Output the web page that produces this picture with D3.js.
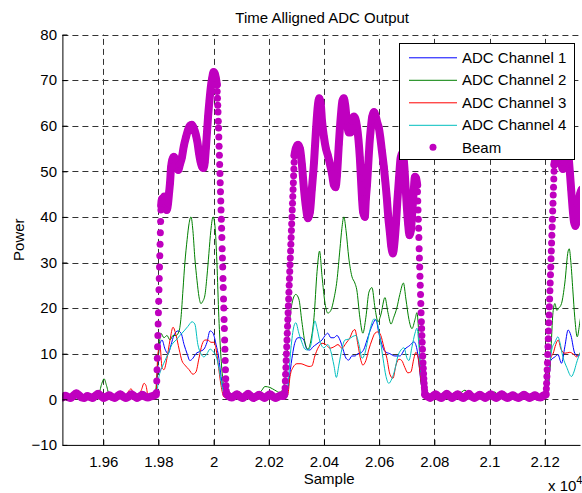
<!DOCTYPE html>
<html>
<head>
<meta charset="utf-8">
<script src="https://cdn.jsdelivr.net/npm/d3@7"></script>
<style>
  html, body { margin: 0; padding: 0; background: #fff; }
  svg text { font-family: "Liberation Sans", Arial, Helvetica, sans-serif; fill: #000; }
</style>
</head>
<body>
<svg id="chart" width="582" height="493"></svg>
<script>
// ── Axes ────────────────────────────────────────────────────────────────────
const xDomain = [19452, 21328];
const yDomain = [-10, 80];
const xTicks = [19600, 19800, 20000, 20200, 20400, 20600, 20800, 21000, 21200];
const xTickLabels = ["1.96", "1.98", "2", "2.02", "2.04", "2.06", "2.08", "2.1", "2.12"];
const yTicks = [-10, 0, 10, 20, 30, 40, 50, 60, 70, 80];

const seriesNames = ["ADC Channel 1", "ADC Channel 2", "ADC Channel 3", "ADC Channel 4", "Beam"];

// ── ADC channels: [sample, power] ───────────────────────────────────────────
const ch1 = [
  [19452,0.3],[19600,0.5],[19700,0.4],[19788,0.5],
  [19795,4],[19802,11],[19813,13],[19824,11],[19835,10],[19846,12],[19856,14],[19871,15],[19882,14.5],[19893,12],[19904,10],[19914,8.5],[19925,9],[19936,10],[19951,10.5],[19965,11],[19976,12.5],[19987,15],[19998,14.5],[20009,12],[20019,9],[20027,5],[20038,1.5],[20048,0.5],
  [20150,0.4],[20262,0.4],[20266,1],[20273,4],[20284,9],[20295,12.5],[20306,13.5],[20317,13.5],[20327,13],[20338,11],[20349,10.8],[20360,11.5],[20371,12],[20382,12.5],[20393,13],[20404,14],[20414,14.5],[20425,13.5],[20436,13.5],[20447,14],[20458,13],[20469,11],[20480,9],[20490,8.6],[20501,9.5],[20512,9.5],[20523,10],[20534,10.2],[20545,11],[20556,13],[20567,15],[20577,16.5],[20588,17.5],[20599,14.5],[20610,12],[20621,10.5],[20639,10],[20657,9.5],[20675,9.5],[20693,11],[20711,11.8],[20726,12.6],[20737,11],[20744,8],[20751,4],[20762,1],[20777,0.3],
  [21000,0.4],[21200,0.5],[21208,1],[21215,4],[21222,8.5],[21237,9.3],[21248,9.8],[21261,7.9],[21273,11.5],[21285,15.2],[21295,14],[21309,10.1],[21320,9.5],[21335,10.5]
];
const ch2 = [
  [19452,0.8],[19500,0.5],[19560,0.7],[19585,1.5],[19595,3.5],[19603,4.5],[19612,3],[19622,1],[19660,0.6],[19700,0.8],[19740,0.7],[19788,1],
  [19798,8],[19809,14.5],[19820,13.5],[19831,14],[19842,13],[19853,14],[19864,14],[19875,15],[19882,18],[19889,24],[19896,30],[19904,35],[19911,38.5],[19918,40],[19925,37],[19932,31],[19940,26],[19947,22.5],[19954,21],[19961,21.5],[19969,23],[19976,27],[19983,32],[19990,37],[19998,40],[20005,38],[20012,30],[20019,18],[20027,9],[20034,4],[20045,1],
  [20100,0.6],[20150,0.8],[20175,2],[20186,2.8],[20204,2.6],[20222,2],[20240,1.5],[20255,3],[20266,10],[20277,18],[20288,22],[20298,23],[20309,22],[20320,17],[20331,12.5],[20342,11],[20353,13],[20364,18],[20375,28],[20384,32.5],[20393,27],[20404,21],[20414,18.9],[20425,19.5],[20436,22],[20447,26],[20458,33],[20465,37.5],[20472,40],[20480,37],[20490,31],[20501,27],[20512,25.5],[20519,24],[20530,18],[20541,14.5],[20552,18],[20563,23.5],[20574,24.5],[20585,20],[20596,17],[20606,18.5],[20621,22.3],[20632,19],[20643,16.5],[20653,18],[20664,20],[20675,23],[20688,25.5],[20697,22],[20708,17.5],[20719,15.5],[20730,17.5],[20737,19],[20744,14],[20751,5],[20762,1],[20777,0.5],
  [20850,0.8],[20890,1.2],[20911,2],[20925,1.2],[20960,0.8],[21000,1],[21019,1.6],[21035,0.8],[21100,0.7],[21150,0.8],[21200,0.9],[21211,2],[21222,10],[21230,19],[21237,21],[21244,19.5],[21251,20],[21261,21],[21273,25.5],[21285,32.5],[21289,33],[21295,30],[21302,24],[21309,18],[21318,13.7],[21327,16.7],[21335,20]
];
const ch3 = [
  [19452,0.4],[19560,0.6],[19600,0.5],[19680,0.7],[19692,1.8],[19701,2.3],[19709,1.4],[19725,0.8],[19738,2],[19748,3.5],[19755,3],[19762,1],[19786,0.8],
  [19791,1],[19798,10],[19806,11.5],[19813,7],[19820,6.5],[19831,9],[19842,13],[19853,15.8],[19864,14],[19875,11],[19885,8.5],[19896,7.5],[19911,6.5],[19925,5.5],[19936,6],[19947,9],[19958,12],[19969,13],[19980,13],[19990,12.5],[20001,12.5],[20009,11],[20016,8],[20027,3],[20038,0.5],
  [20150,0.5],[20262,0.5],[20269,1],[20277,5],[20288,7],[20302,7.8],[20317,7.8],[20331,7.5],[20346,7.2],[20356,7.3],[20367,9.5],[20378,11.2],[20393,12.3],[20407,12],[20422,11.2],[20436,11.5],[20451,12],[20465,11.2],[20480,12.3],[20494,13.5],[20505,15],[20512,15.3],[20523,12],[20534,8.5],[20541,7.5],[20552,8.5],[20563,11],[20574,13],[20585,14.5],[20596,14.8],[20606,14],[20617,11.5],[20628,9],[20639,5.5],[20650,4.6],[20661,7.5],[20672,8.8],[20682,8.5],[20693,7],[20704,5.8],[20715,6],[20726,9],[20733,10.3],[20740,9.5],[20748,6],[20755,2.5],[20766,0.5],
  [21000,0.5],[21200,0.6],[21208,1.5],[21215,5],[21222,9],[21231,10.1],[21240,12],[21249,13],[21259,11],[21273,10.1],[21291,10.3],[21306,9.8],[21315,9.3],[21327,10],[21335,10]
];
const ch4 = [
  [19452,0.3],[19788,0.5],
  [19791,0.5],[19802,5],[19813,7],[19824,8.5],[19835,10],[19849,12],[19864,13],[19878,14],[19893,15],[19907,16],[19922,17],[19932,16.5],[19943,12],[19954,10],[19965,9.3],[19976,10],[19987,11],[19998,10.5],[20009,9.5],[20019,7],[20030,3],[20041,0.8],
  [20150,0.3],[20262,0.4],[20269,3],[20280,11],[20291,16],[20298,16.8],[20309,14.5],[20320,12.5],[20331,11],[20342,10.8],[20353,12],[20360,15],[20367,17.2],[20375,15.5],[20385,12.8],[20400,11.3],[20414,12],[20425,10.5],[20436,7.5],[20445,4.8],[20454,7.5],[20465,11],[20476,13],[20490,13.2],[20505,13.8],[20516,14],[20527,12],[20538,9],[20548,10],[20559,13],[20570,16],[20581,17.6],[20592,17],[20603,13.5],[20614,9],[20625,5],[20635,3.5],[20646,4.5],[20657,6.5],[20668,9.5],[20679,10.8],[20690,11.3],[20701,9],[20708,8.5],[20719,11.5],[20730,14.5],[20737,15.6],[20744,12],[20751,6],[20759,2],[20769,0.3],
  [21000,0.3],[21200,0.4],[21206,1],[21215,6],[21226,11],[21237,12.5],[21248,13.7],[21255,12.5],[21266,9.3],[21280,7],[21297,5],[21306,6],[21315,7.9],[21327,10],[21335,11]
];

// ── Beam: dense stretches as [sample, power], steep edges one sample apart ──
const beamFlat1 = [
  [19452,0.4],[19462,0.8],[19472,0.5],[19482,0.3],[19492,0.8],[19502,1.3],[19512,0.9],[19522,0.4],[19532,0.3],[19542,0.7],[19552,0.5],[19562,0.3],[19572,0.8],[19582,1.2],[19592,0.7],[19602,0.3],[19612,0.6],[19622,0.9],[19632,0.5],[19642,0.3],[19652,0.7],[19662,1.1],[19672,0.6],[19682,0.3],[19692,0.6],[19702,1.1],[19712,0.7],[19722,0.3],[19732,0.6],[19742,1.0],[19752,0.6],[19762,0.4],[19772,0.6],[19782,0.8],[19790,1.0]
];
const beamRise1 = { start: 19793, values: [1.5,4,6.5,9,11.5,14,16.5,19,21.5,24,26.5,29,31.5,34,36.5,39,41.5] };
const beamTop1 = [
  [19810,42.5],[19813,44],[19817,43],[19821,44.5],[19825,42.5],[19830,41.5],[19835,43],[19839,45.5],[19842,47.4],[19846,51],[19850,52.5],[19856,53.2],[19862,52.5],[19868,50.8],[19872,50.3],[19878,51.5],[19885,53],[19892,55.5],[19900,57.5],[19907,59],[19914,60],[19921,60.2],[19928,59.5],[19935,58.2],[19941,56.5],[19947,54],[19953,52],[19958,51],[19963,50.7],[19968,52],[19972,55],[19976,58.5],[19980,62],[19985,65.5],[19990,68.5],[19995,70.5],[20000,71.8],[20004,71.5],[20008,70.5],[20012,69]
];
const beamFall1 = { start: 20013, values: [67.5,66,64.5,63,61,59.5,57.5,55.5,53.5,51.5,49.5,47.5,45.5,43.5,41.5,39.5,37.5,35.5,33,31,29,26.5,24.5,22,20,17.5,15.5,13,11,8.5,6.5,4.5,3,1.8] };
const beamFlat2 = [
  [20047,1.2],[20055,0.7],[20065,0.4],[20075,0.7],[20085,1.1],[20095,0.6],[20105,0.3],[20115,0.7],[20125,1.2],[20135,0.7],[20145,0.3],[20155,0.6],[20165,1.0],[20175,0.6],[20185,0.3],[20195,0.7],[20205,1.1],[20215,0.6],[20225,0.3],[20235,0.6],[20245,0.9],[20252,0.7],[20256,1.0]
];
const beamRise2 = { start: 20258, values: [1.5,2.5,4,5.5,7,8.5,10,11.5,13,14.5,16,17.5,19,20.5,22,23.5,25,26.5,28,29.5,31,32.5,34,35.5,37,38.5,40,41.5,43,44.5,46,47.5,49,50.5,52] };
const beamTop2 = [
  [20293,53.5],[20298,55],[20306,55.8],[20313,55],[20320,51.5],[20327,46.5],[20335,42],[20342,39.7],[20349,41],[20356,46],[20364,52],[20371,59],[20378,64.5],[20383,66],[20388,65],[20393,61],[20400,57.5],[20407,55],[20414,53.5],[20422,51.5],[20429,49.5],[20436,47],[20442,46.5],[20447,49],[20454,56],[20461,62],[20467,65.5],[20472,66],[20477,64.5],[20483,61],[20490,58.5],[20496,58.5],[20502,61],[20508,62],[20514,61.5],[20519,60],[20525,57],[20530,53],[20534,48.5],[20538,44],[20542,41],[20548,40],[20552,44],[20556,47],[20560,51],[20565,56],[20570,59.5],[20575,62],[20581,63],[20588,62],[20594,60.5],[20599,59.5],[20604,57.5],[20610,54.5],[20617,51],[20622,48],[20628,44],[20633,40],[20639,36.5],[20644,33.5],[20650,32],[20655,34],[20661,38.5],[20666,43.5],[20672,48.5],[20678,53],[20684,54],[20690,52],[20695,47.5],[20700,42.5],[20705,38.5],[20710,36],[20715,37],[20719,40],[20724,44.5],[20730,48.8],[20734,48.5],[20738,47]
];
const beamFall2 = { start: 20739, values: [45.5,43.5,41.5,39.5,37.5,35.5,33,31,29,27,25,23,21,19,17,15.5,14,12.5,11,9.5,8,6.8,5.6,4.5,3.5,2.6,1.8,1.2] };
const beamFlat3 = [
  [20767,1.0],[20775,0.6],[20785,0.3],[20795,0.7],[20805,1.1],[20815,0.6],[20825,0.3],[20835,0.7],[20845,1.2],[20855,0.7],[20865,0.3],[20875,0.7],[20885,1.1],[20895,0.6],[20905,0.3],[20915,0.7],[20925,1.2],[20935,0.6],[20945,0.3],[20955,0.6],[20965,1.0],[20975,0.6],[20985,0.3],[20995,0.7],[21005,1.1],[21015,0.6],[21025,0.3],[21035,0.7],[21045,1.1],[21055,0.6],[21065,0.3],[21075,0.6],[21085,0.9],[21095,0.5],[21105,0.3],[21115,0.6],[21125,1.0],[21135,0.6],[21145,0.3],[21155,0.6],[21165,0.9],[21175,0.5],[21185,0.4],[21195,0.8],[21203,1.0]
];
const beamRise3 = { start: 21205, values: [1.2,2.3,3.5,5,6.5,8,9.8,11.5,13.3,15,16.8,18.5,20.3,22,23.8,25.5,27.3,29,30.8,32.5,34.3,36,37.8,39.5,41.3,43,44.8,46.5,48.3,50] };
const beamTop3 = [
  [21235,51.5],[21240,53],[21245,54.5],[21251,55],[21256,53.5],[21261,51.5],[21266,50.5],[21271,52],[21276,54.5],[21281,55],[21286,53.5],[21291,50],[21296,46],[21301,42],[21306,39],[21311,38],[21316,39],[21321,42],[21328,45],[21334,46]
];

// ── Layout ──────────────────────────────────────────────────────────────────
const plot = { left: 62.4, right: 580, top: 34.5, bottom: 444.9 };
const fontSize = 15;
const beamColor = "#bf00bf";
const beamR = 3.5;
const bandWidth = 8;
const chColors = ["#0000ff", "#007f00", "#ff0000", "#00bfbf"];

const svg = d3.select("#chart");

const x = d3.scaleLinear().domain(xDomain).range([plot.left, plot.right]);
const y = d3.scaleLinear().domain(yDomain).range([plot.bottom, plot.top]);

svg.append("defs").append("clipPath").attr("id", "plotClip")
  .append("rect")
  .attr("x", plot.left).attr("y", plot.top)
  .attr("width", plot.right - plot.left).attr("height", plot.bottom - plot.top);

// ── Grid ────────────────────────────────────────────────────────────────────
const grid = svg.append("g")
  .attr("stroke", "#333").attr("stroke-width", 1).attr("stroke-dasharray", "6,4");
grid.selectAll("line.h").data(yTicks.filter(d => d > yDomain[0])).join("line")
  .attr("class", "h")
  .attr("x1", plot.left).attr("x2", plot.right)
  .attr("y1", d => Math.round(y(d)) + 0.5).attr("y2", d => Math.round(y(d)) + 0.5);
grid.selectAll("line.v").data(xTicks).join("line")
  .attr("class", "v")
  .attr("y1", plot.bottom).attr("y2", plot.top)
  .attr("x1", d => Math.round(x(d)) + 0.5).attr("x2", d => Math.round(x(d)) + 0.5);

// ── Data ────────────────────────────────────────────────────────────────────
const dataG = svg.append("g").attr("clip-path", "url(#plotClip)");

const line = d3.line().x(d => x(d[0])).y(d => y(d[1])).curve(d3.curveMonotoneX);

[ch1, ch2, ch3, ch4].forEach((s, i) => {
  dataG.append("path")
    .datum(s)
    .attr("fill", "none")
    .attr("stroke", chColors[i])
    .attr("stroke-width", 1)
    .attr("d", line);
});

const edgePts = e => e.values.map((v, i) => [e.start + i, v]);
const beamBands = [beamFlat1, beamTop1, beamFlat2, beamTop2, beamFlat3, beamTop3];
const beamEdges = [beamRise1, beamFall1, beamRise2, beamFall2, beamRise3].map(edgePts);

// merged stretches of dots look like a thick band
dataG.selectAll("path.band").data(beamBands).join("path")
  .attr("class", "band")
  .attr("fill", "none")
  .attr("stroke", beamColor)
  .attr("stroke-width", bandWidth)
  .attr("stroke-linejoin", "round")
  .attr("stroke-linecap", "round")
  .attr("d", line);

dataG.selectAll("circle.beam").data(beamBands.flat().concat(beamEdges.flat())).join("circle")
  .attr("class", "beam")
  .attr("cx", d => x(d[0]))
  .attr("cy", d => y(d[1]))
  .attr("r", beamR)
  .attr("fill", beamColor);

// ── Axes ────────────────────────────────────────────────────────────────────
const yAxis = d3.axisLeft(y).tickValues(yTicks).tickSizeInner(-5).tickSizeOuter(0).tickPadding(5.4);
const xAxis = d3.axisBottom(x).tickValues(xTicks).tickFormat((d, i) => xTickLabels[i])
  .tickSizeInner(-5).tickSizeOuter(0).tickPadding(11);

const gy = svg.append("g").attr("transform", `translate(${plot.left},0)`).call(yAxis);
const gx = svg.append("g").attr("transform", `translate(0,${plot.bottom})`).call(xAxis);
[gx, gy].forEach(g => {
  g.select(".domain").attr("stroke", "#000");
  g.selectAll(".tick line").attr("stroke", "#000");
  g.selectAll(".tick text").attr("font-size", fontSize)
    .attr("font-family", '"Liberation Sans", Arial, sans-serif').attr("fill", "#000");
});

// ── Labels ──────────────────────────────────────────────────────────────────
svg.append("text")
  .attr("x", (plot.left + plot.right) / 2 + 1).attr("y", 23)
  .attr("text-anchor", "middle").attr("font-size", fontSize)
  .text("Time Alligned ADC Output");

svg.append("text")
  .attr("x", (plot.left + plot.right) / 2 + 8).attr("y", 484)
  .attr("text-anchor", "middle").attr("font-size", fontSize)
  .text("Sample");

svg.append("text")
  .attr("transform", `translate(24,${(plot.top + plot.bottom) / 2}) rotate(-90)`)
  .attr("text-anchor", "middle").attr("font-size", fontSize)
  .text("Power");

const expo = svg.append("text").attr("x", 548).attr("y", 491).attr("font-size", fontSize);
expo.append("tspan").text("x 10");
expo.append("tspan").attr("font-size", 11).attr("dy", -7).text("4");

// ── Legend ──────────────────────────────────────────────────────────────────
const legend = svg.append("g");
legend.append("rect")
  .attr("x", 399.5).attr("y", 43.5).attr("width", 175).attr("height", 116)
  .attr("fill", "#fff").attr("stroke", "#000").attr("stroke-width", 1);

const rowY = d3.scaleLinear().domain([0, 4]).range([57.3, 147.3]);
const items = legend.selectAll("g.item").data(seriesNames).join("g")
  .attr("class", "item")
  .attr("transform", (d, i) => `translate(0,${rowY(i)})`);

items.filter((d, i) => i < 4).append("line")
  .attr("x1", 409).attr("x2", 457).attr("y1", 0.5).attr("y2", 0.5)
  .attr("stroke", (d, i) => chColors[i]).attr("stroke-width", 1);
items.filter((d, i) => i === 4).append("circle")
  .attr("cx", 433).attr("cy", 0).attr("r", beamR).attr("fill", beamColor);
items.append("text")
  .attr("x", 462).attr("y", 5.3).attr("font-size", fontSize)
  .text(d => d);
</script>
</body>
</html>
